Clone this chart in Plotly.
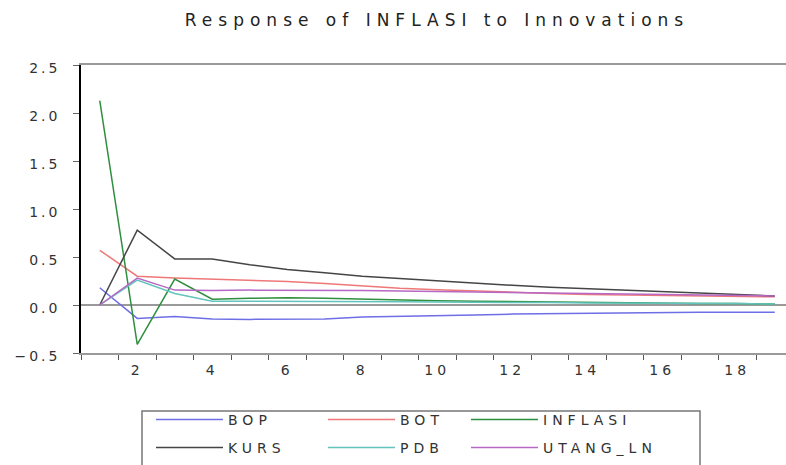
import plotly.graph_objects as go

# Impulse-response periods and responses of INFLASI to each shock
periods = list(range(1, 20))
bop = [0.18, -0.14, -0.12, -0.145, -0.15, -0.15, -0.145, -0.125, -0.12, -0.11,
       -0.105, -0.095, -0.09, -0.09, -0.08, -0.08, -0.075, -0.075, -0.075]
bot = [0.57, 0.30, 0.28, 0.27, 0.26, 0.245, 0.225, 0.20, 0.175, 0.16,
       0.145, 0.13, 0.12, 0.11, 0.105, 0.10, 0.095, 0.09, 0.085]
inflasi = [2.13, -0.41, 0.27, 0.06, 0.07, 0.075, 0.07, 0.06, 0.05, 0.045,
           0.04, 0.035, 0.03, 0.025, 0.02, 0.02, 0.015, 0.015, 0.01]
kurs = [0.0, 0.78, 0.48, 0.48, 0.42, 0.37, 0.335, 0.30, 0.275, 0.25,
        0.225, 0.205, 0.185, 0.17, 0.155, 0.14, 0.13, 0.115, 0.095]
pdb = [0.0, 0.26, 0.12, 0.04, 0.04, 0.04, 0.04, 0.035, 0.035, 0.03,
       0.03, 0.03, 0.025, 0.02, 0.02, 0.02, 0.015, 0.015, 0.01]
utang_ln = [0.0, 0.28, 0.155, 0.15, 0.155, 0.155, 0.155, 0.15, 0.145, 0.14,
            0.135, 0.13, 0.12, 0.115, 0.11, 0.105, 0.10, 0.10, 0.095]

x_labels = [2, 4, 6, 8, 10, 12, 14, 16, 18]
y_ticks = [-0.5, 0.0, 0.5, 1.0, 1.5, 2.0, 2.5]

# name, values, colour, legend row, legend entry width
series = [
    ("BOP", bop, "#6e6ee6", "legend", 90),
    ("BOT", bot, "#ee7878", "legend", 61),
    ("INFLASI", inflasi, "#2f8f3f", "legend", 130),
    ("KURS", kurs, "#454545", "legend2", 90),
    ("PDB", pdb, "#62c4bc", "legend2", 61),
    ("UTANG_LN", utang_ln, "#b668c4", "legend2", 130),
]

fig = go.Figure()
for name, vals, color, leg, lw in series:
    fig.add_trace(go.Scatter(
        x=periods, y=vals, mode="lines", name=name,
        line=dict(color=color, width=1.5), legend=leg, legendwidth=lw,
    ))

W, H = 786, 465
legend_common = dict(
    orientation="h", xref="container", yref="container",
    xanchor="left", yanchor="middle", itemwidth=67,
    bgcolor="rgba(0,0,0,0)", borderwidth=0,
    font=dict(family="DejaVu Sans", size=14, color="#333333"),
)

fig.update_layout(
    width=W, height=H,
    margin=dict(l=81, r=0, t=65, b=112, pad=0),
    paper_bgcolor="white", plot_bgcolor="white",
    font=dict(family="DejaVu Sans", size=14, color="#333333"),
    title=dict(
        text="Response of INFLASI to Innovations",
        xref="container", x=437 / W, xanchor="center",
        yref="container", y=1 - 20 / H, yanchor="middle",
        font=dict(family="DejaVu Sans", size=17, color="#222222"),
    ),
    showlegend=True,
    legend=dict(legend_common, x=151 / W, y=1 - 420 / H),
    legend2=dict(legend_common, x=151 / W, y=1 - 448 / H),
    shapes=[dict(
        type="rect", xref="paper", yref="paper",
        x0=(142 - 81) / 705, x1=(700 - 81) / 705,
        y0=(353 - 411) / 288, y1=(353 - 490) / 288,
        line=dict(color="#777777", width=1.5), fillcolor="rgba(0,0,0,0)",
    )],
)

fig.update_xaxes(
    range=[0.5, 19.3], tickmode="array", tickvals=x_labels,
    ticks="", showgrid=False, zeroline=False,
    showline=True, linecolor="#9a9a9a", linewidth=2, mirror=True,
    ticklabelstandoff=3,
    minor=dict(tickmode="array", tickvals=[p - 0.5 for p in periods],
               ticks="outside", ticklen=5, tickcolor="#555555", tickwidth=1,
               showgrid=False),
)
fig.update_yaxes(
    range=[-0.5, 2.5], tickmode="array", tickvals=y_ticks,
    tickformat=".1f", ticks="outside", ticklen=6, tickcolor="#666666",
    showgrid=False, showline=True, linecolor="#000000", linewidth=1.5,
    zeroline=True, zerolinecolor="#9a9a9a", zerolinewidth=2,
    ticklabelstandoff=10, ticklabelshift=3,
)

# Wide EViews-style lettering, applied as a stylesheet so every redraw keeps it
spacing_js = """
var st = document.createElement('style');
st.textContent = '.gtitle{letter-spacing:6px}' +
  '.xtick text{letter-spacing:4px}' +
  '.ytick text{letter-spacing:3px}' +
  '.infolayer g.traces text, .legendtext{letter-spacing:5px}';
document.head.appendChild(st);
"""

fig.write_html("out.html", post_script=spacing_js)
